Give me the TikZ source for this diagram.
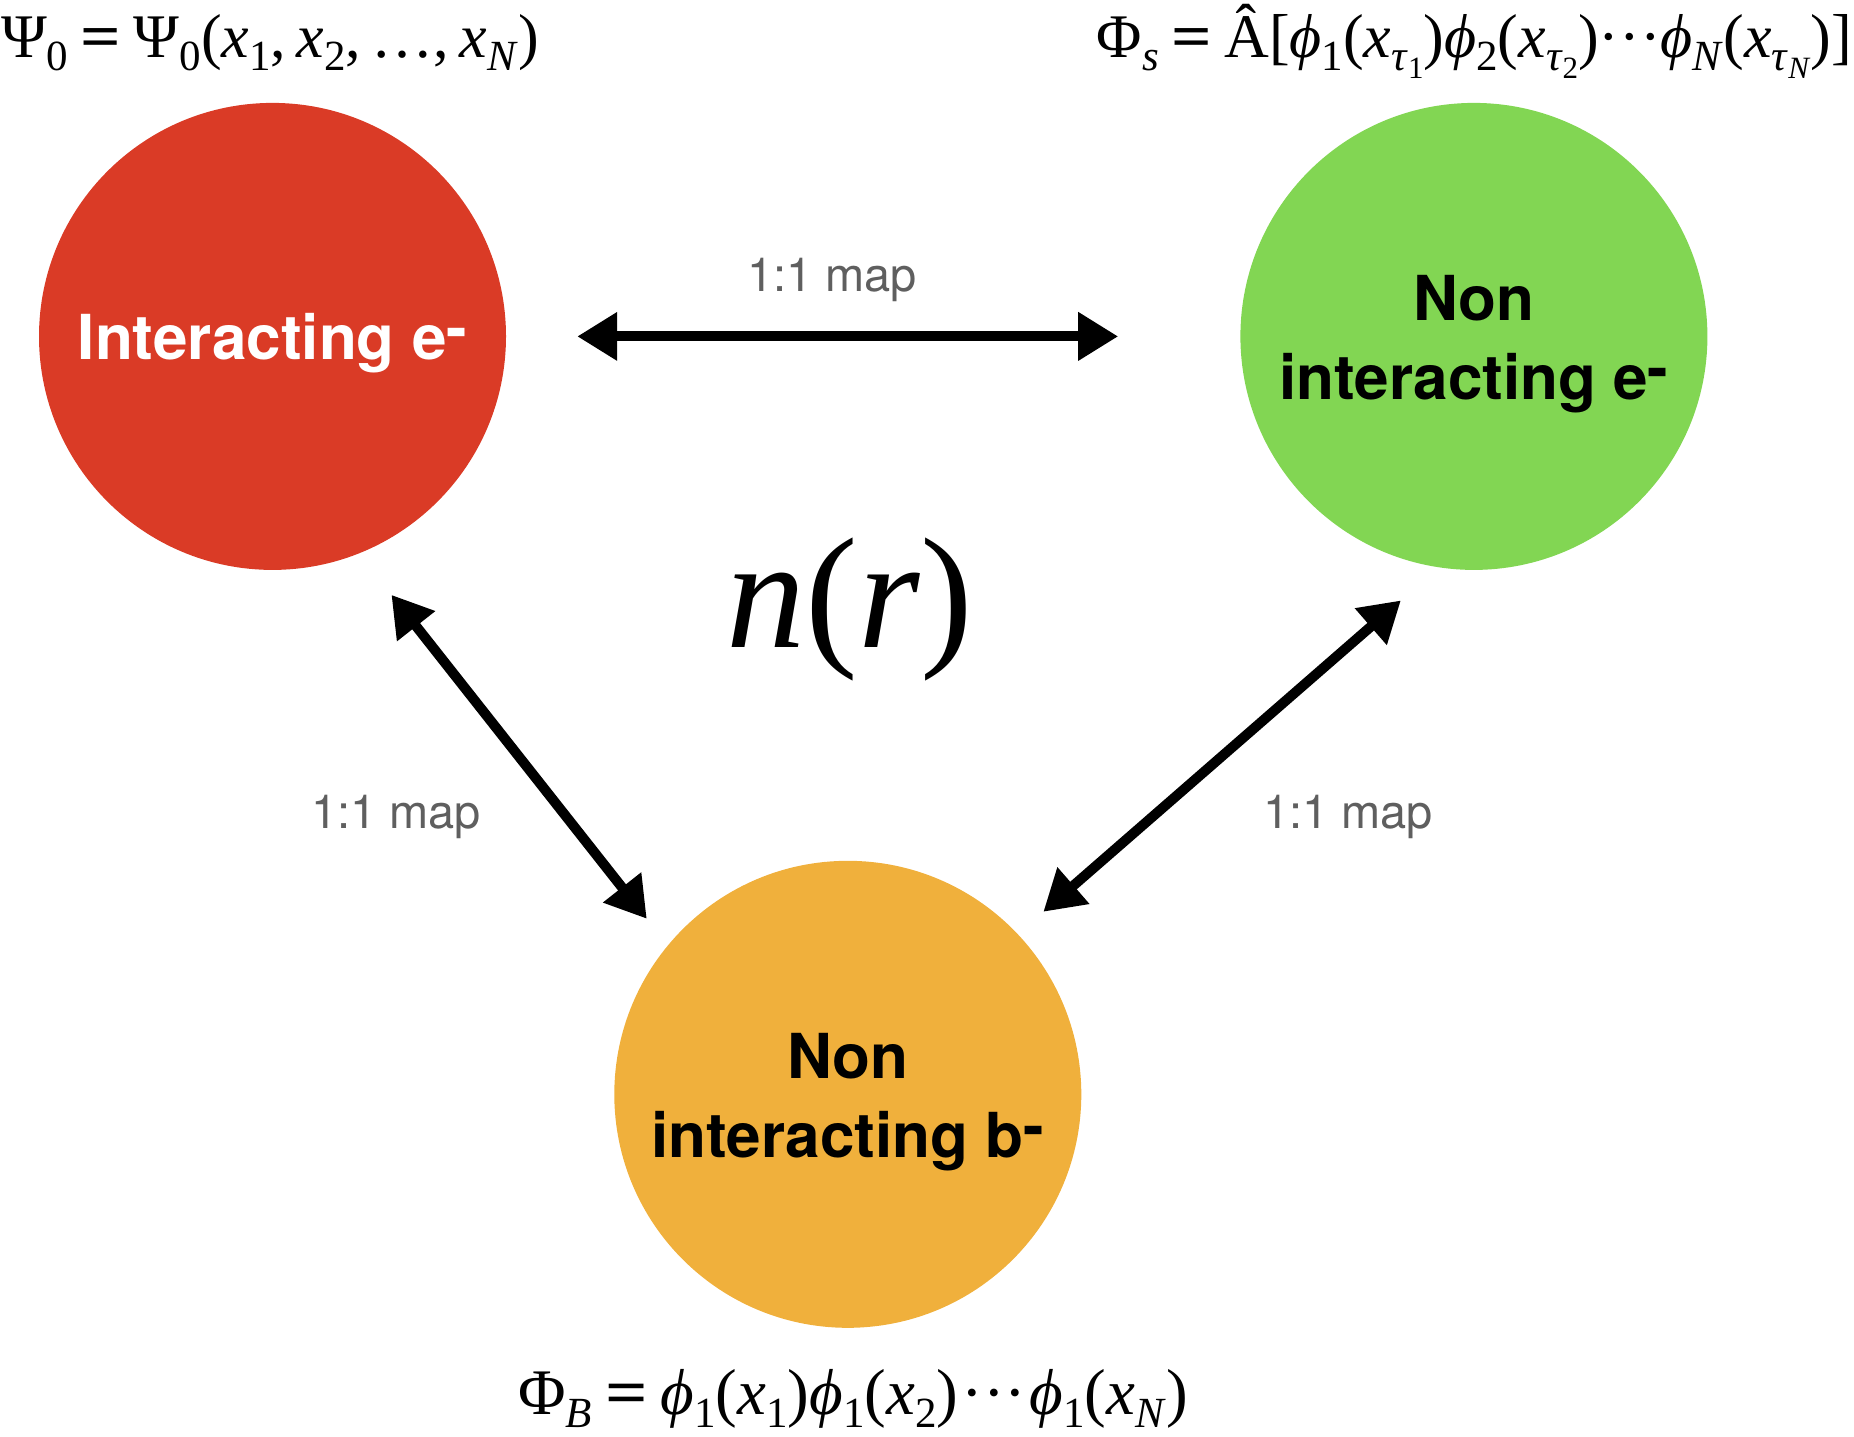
\documentclass[tikz,border=0pt]{standalone}
\usepackage{fontspec}
\usepackage{graphicx}
\newfontfamily\hv{TeX Gyre Heros}
\newfontfamily\tms{Liberation Serif}
\usetikzlibrary{arrows.meta,calc}
\definecolor{cred}{RGB}{218,59,38}
\definecolor{cgreen}{RGB}{130,214,83}
\definecolor{corange}{RGB}{240,176,60}
\definecolor{cgray}{RGB}{95,95,95}
\newcommand\sbs[1]{\raisebox{-13pt}{\fontsize{43}{43}\selectfont #1}}
\newcommand\ssbs[1]{\raisebox{-8pt}{\fontsize{31}{31}\selectfont #1}}
\newcommand\vi[1]{\textit{#1}}
\newcommand\eqs{\hspace{0.2em}\scalebox{1.15}[1]{\bfseries =}\hspace{0.2em}}
\newcommand\minussup{\raisebox{10pt}{-}}
\begin{document}
\begin{tikzpicture}[x=1pt,y=-1pt,
  state/.style={circle,minimum size=467pt,inner sep=0pt},
  statetext/.style={inner sep=0pt,align=center,
    font=\hv\bfseries\fontsize{62}{79}\selectfont},
  biarrow/.style={line width=10pt,
    {Triangle[length=40pt,width=46pt]}-{Triangle[length=40pt,width=46pt]}},
  maplabel/.style={text=cgray,inner sep=0pt,font=\hv\fontsize{47}{56}\selectfont},
  formula/.style={inner sep=0pt,font=\tms\fontsize{62}{74}\selectfont}]
\useasboundingbox (0,0) rectangle (1854,1436);
% states
\node[state,fill=cred] (red) at (272.5,336.4) {};
\node[state,fill=cgreen] (green) at (1473.9,336.4) {};
\node[state,fill=corange] (orange) at (847.8,1094.3) {};
\node[statetext,text=white] (redt) at ($(red)+(0,7)$) {Interacting e\minussup};
\node[statetext,text=black] (greent) at ($(green)+(0,8)$) {Non\\interacting e\minussup};
\node[statetext,text=black] (oranget) at ($(orange)+(0,8)$) {Non\\interacting b\minussup};
% density
\node[inner sep=0pt,font=\tms\fontsize{158}{160}\selectfont] (dens) at (850,609) {\vi{n}(\vi{r})};
% formulas
\node[formula,anchor=base west] (psi) at (1,57)
  {Ψ\sbs{0}\eqs Ψ\sbs{0}(\vi{x}\sbs{1},\hspace{0.17em}\vi{x}\sbs{2},\hspace{0.17em}…,\hspace{0.17em}\vi{x}\sbs{\vi{N}})};
\node[formula,anchor=base east] (phis) at (1852,57)
  {Φ\sbs{\vi{s}}\eqs Â[\vi{ϕ}\sbs{1}(\vi{x}\sbs{\vi{τ}\ssbs{1}})\vi{ϕ}\sbs{2}(\vi{x}\sbs{\vi{τ}\ssbs{2}})···\vi{ϕ}\sbs{\vi{N}}(\vi{x}\sbs{\vi{τ}\ssbs{\vi{N}}})]};
\node[formula,anchor=base,font=\tms\fontsize{65}{74}\selectfont] (phib) at (853,1414)
  {Φ\sbs{\vi{B}}\eqs \vi{ϕ}\sbs{1}(\vi{x}\sbs{1})\vi{ϕ}\sbs{1}(\vi{x}\sbs{2})\hspace{0.05em}···\hspace{0.05em}\vi{ϕ}\sbs{1}(\vi{x}\sbs{\vi{N}})};
% connectors
\draw[biarrow] ([xshift=71pt]red.east) -- ([xshift=-122pt]green.west);
\draw[biarrow] ($(red.center)+(118.9,258.4)$) -- ($(orange.center)+(-201,-175.5)$);
\draw[biarrow] ($(green.center)+(-73,264)$) -- ($(orange.center)+(195.5,-182.5)$);
% labels
\node[maplabel] (m1) at (832,280) {1:1 map};
\node[maplabel] (m2) at (396,817) {1:1 map};
\node[maplabel] (m3) at (1348,817) {1:1 map};
\end{tikzpicture}
\end{document}
